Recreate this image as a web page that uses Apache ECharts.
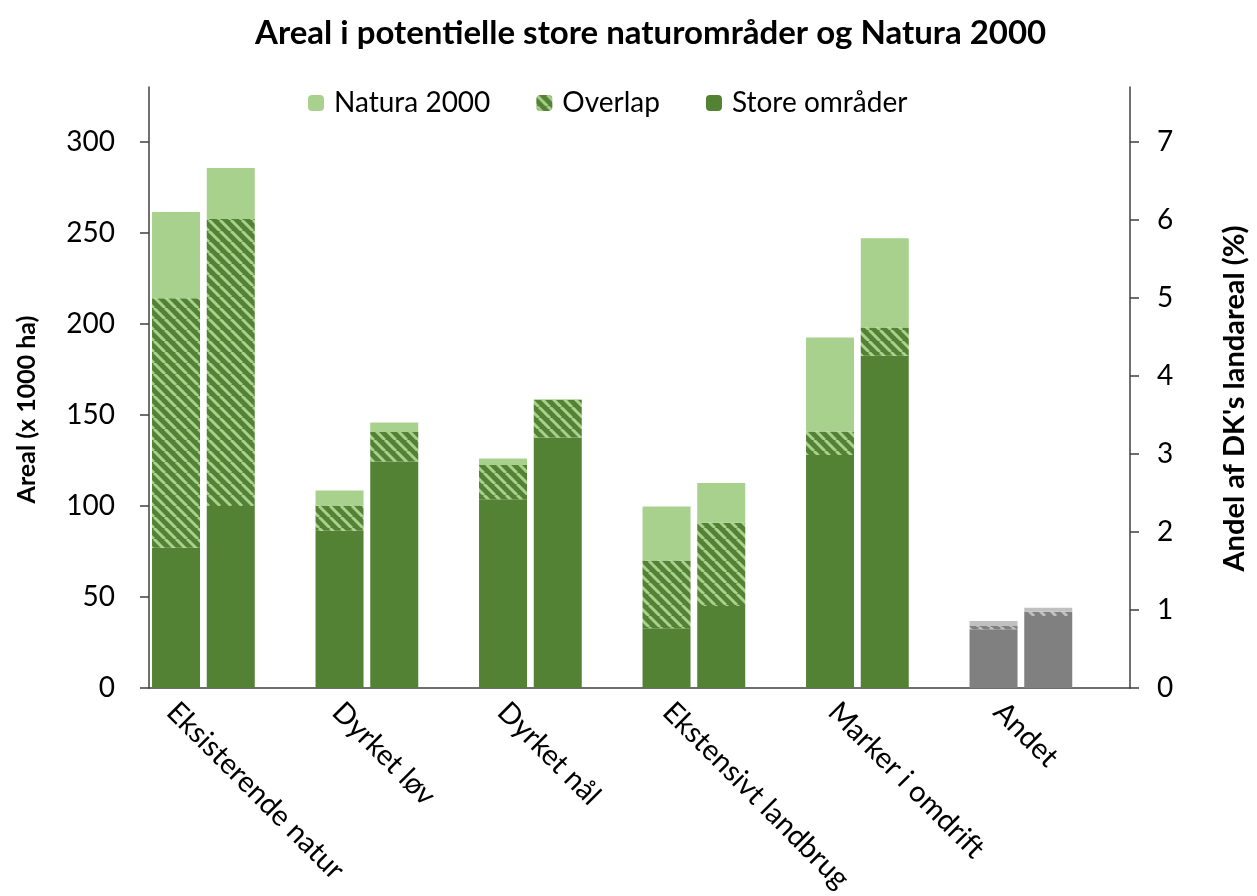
<!DOCTYPE html>
<html>
<head>
<meta charset="utf-8">
<script src="https://cdn.jsdelivr.net/npm/echarts@6/dist/echarts.min.js"></script>
<style>
html, body { margin: 0; padding: 0; background: #fff; }
#main { width: 1257px; height: 896px; }
</style>
</head>
<body>
<div id="main"></div>
<script>
// kategorier og værdier (x 1000 ha)
var categories = ['Eksisterende natur', 'Dyrket løv', 'Dyrket nål', 'Ekstensivt landbrug', 'Marker i omdrift', 'Andet'];

// venstre søjle i hver gruppe
var store1   = [77.0, 86.4, 103.7, 32.8, 128.0, 32.2];
var overlap1 = [137.0, 13.8, 18.8, 37.2, 12.8, 1.8];
var natura1  = [47.3, 8.2, 3.5, 29.6, 51.7, 2.8];

// højre søjle i hver gruppe
var store2   = [100.0, 124.3, 137.5, 45.0, 182.4, 39.6];
var overlap2 = [157.5, 16.2, 20.7, 45.8, 15.6, 2.2];
var natura2  = [28.0, 5.3, 0.4, 21.7, 49.0, 2.3];

var leftTicks = [0, 50, 100, 150, 200, 250, 300];
var rightTicks = [0, 1, 2, 3, 4, 5, 6, 7];

var FONT = 'Lato';
var darkGreen = '#548235';
var lightGreen = '#a9d18e';
var darkGrey = '#808080';
var lightGrey = '#c0c0c0';

function hatch(bg, fg) {
    var s = 11;
    var c = document.createElement('canvas');
    c.width = s; c.height = s;
    var ctx = c.getContext('2d');
    ctx.fillStyle = bg;
    ctx.fillRect(0, 0, s, s);
    ctx.strokeStyle = fg;
    ctx.lineWidth = 3;
    for (var k = -1; k <= 1; k++) {
        ctx.beginPath();
        ctx.moveTo(k * s, 0);
        ctx.lineTo(k * s + s, s);
        ctx.stroke();
    }
    return { image: c, repeat: 'repeat' };
}

var greenHatch = hatch(darkGreen, lightGreen);
var greyHatch = hatch(darkGrey, lightGrey);

// sidste kategori (Andet) er grå
function colored(values, grey) {
    return values.map(function (v, i) {
        if (i === categories.length - 1) {
            return { value: v, itemStyle: { color: grey } };
        }
        return v;
    });
}

function barSeries(name, stack, values, green, grey) {
    return {
        name: name,
        type: 'bar',
        stack: stack,
        barWidth: 48,
        barGap: '14%',
        itemStyle: { color: green },
        data: colored(values, grey)
    };
}

var chart = echarts.init(document.getElementById('main'));
chart.setOption({
    animation: false,
    textStyle: { fontFamily: FONT },
    title: {
        text: 'Areal i potentielle store naturområder og Natura 2000',
        left: 250,
        top: 12,
        textStyle: { fontFamily: FONT, fontWeight: 'bold', fontSize: 33, color: '#000' }
    },
    legend: {
        data: ['Natura 2000', 'Overlap', 'Store områder'],
        left: 303,
        top: 84,
        itemWidth: 16,
        itemHeight: 16,
        itemGap: 46,
        textStyle: { fontFamily: FONT, fontSize: 28, color: '#000', padding: [0, 0, 0, 5] }
    },
    grid: [
        { left: 149, right: 116, top: 87, bottom: 208, containLabel: false },
        { left: 89, right: 176, top: 87, bottom: 208, containLabel: false }
    ],
    xAxis: [
        {
            type: 'category',
            gridIndex: 0,
            data: categories,
            axisLine: { lineStyle: { color: '#404040', width: 1.5 } },
            axisTick: { show: false },
            axisLabel: { show: false }
        },
        {
            type: 'category',
            gridIndex: 1,
            data: categories,
            axisLine: { show: false },
            axisTick: { show: false },
            axisLabel: {
                rotate: -45,
                margin: 22,
                interval: 0,
                fontFamily: FONT,
                fontSize: 29,
                color: '#000'
            }
        }
    ],
    yAxis: [
        {
            type: 'value',
            gridIndex: 0,
            min: 0,
            max: 330,
            interval: 50,
            name: 'Areal (x 1000 ha)',
            nameLocation: 'middle',
            nameGap: 110,
            nameTextStyle: { fontFamily: FONT, fontWeight: 'bold', fontSize: 25, color: '#000', padding: [0, 44, 0, 0] },
            splitLine: { show: false },
            axisLine: { show: true, lineStyle: { color: '#404040', width: 1.5 } },
            axisTick: { show: true, length: 9, customValues: leftTicks, lineStyle: { color: '#404040', width: 1.5 } },
            axisLabel: { customValues: leftTicks, margin: 34, fontFamily: FONT, fontSize: 28, color: '#000' }
        },
        {
            type: 'value',
            gridIndex: 0,
            position: 'right',
            min: 0,
            max: 7.7,
            interval: 1,
            name: "Andel af DK's landareal (%)",
            nameLocation: 'middle',
            nameGap: 90,
            nameTextStyle: { fontFamily: FONT, fontWeight: 'bold', fontSize: 29, color: '#000', padding: [0, 22, 0, 0] },
            splitLine: { show: false },
            axisLine: { show: true, lineStyle: { color: '#404040', width: 1.5 } },
            axisTick: { show: true, length: 9, customValues: rightTicks, lineStyle: { color: '#404040', width: 1.5 } },
            axisLabel: { customValues: rightTicks, margin: 27, fontFamily: FONT, fontSize: 28, color: '#000' }
        },
        {
            type: 'value',
            gridIndex: 1,
            show: false
        }
    ],
    series: [
        barSeries('Store områder', 'a', store1, darkGreen, darkGrey),
        barSeries('Overlap', 'a', overlap1, greenHatch, greyHatch),
        barSeries('Natura 2000', 'a', natura1, lightGreen, lightGrey),
        barSeries('Store områder', 'b', store2, darkGreen, darkGrey),
        barSeries('Overlap', 'b', overlap2, greenHatch, greyHatch),
        barSeries('Natura 2000', 'b', natura2, lightGreen, lightGrey),
        // tom tredje plads i hver kategori, som i originalen
        { name: 'tom', type: 'bar', stack: 'c', barWidth: 48, data: categories.map(function () { return null; }) }
    ]
});
</script>
</body>
</html>
